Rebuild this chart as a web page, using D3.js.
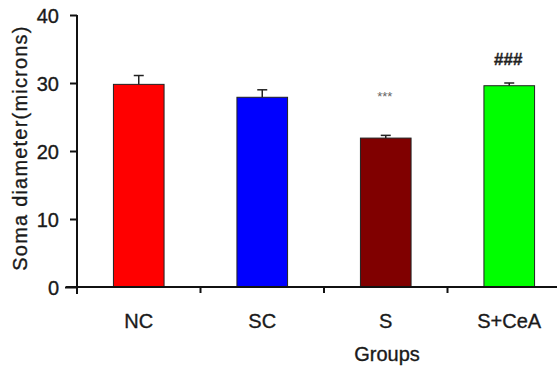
<!DOCTYPE html>
<html>
<head>
<meta charset="utf-8">
<script src="https://cdn.jsdelivr.net/npm/d3@7"></script>
<style>
  body { margin: 0; background: #fff; }
  text { font-family: "Liberation Sans", Arial, sans-serif; fill: #1a1a1a; stroke: #1a1a1a; stroke-width: 0.35px; }
</style>
</head>
<body>
<div id="chart"></div>
<script>
const groups = ["NC", "SC", "S", "S+CeA"];
const means = [29.8, 27.9, 21.9, 29.6];
const errors = [1.3, 1.1, 0.4, 0.4];
const colors = ["#ff0000", "#0000ff", "#800000", "#00ff00"];
const marks = ["", "", "***", "###"];
const yTicks = [0, 10, 20, 30, 40];

const width = 557, height = 372;

const svg = d3.select("#chart")
    .append("svg")
    .attr("width", width)
    .attr("height", height);

const x = d3.scaleBand()
    .domain(groups)
    .range([77, 571])
    .paddingInner(0)
    .paddingOuter(0);

const y = d3.scaleLinear()
    .domain([0, 40])
    .range([287, 15]);

const barW = x.bandwidth() * 0.41;

// bars
svg.selectAll(".bar")
    .data(groups)
    .enter().append("rect")
    .attr("class", "bar")
    .attr("x", (d, i) => x(d) + x.bandwidth() / 2 - barW / 2)
    .attr("y", (d, i) => y(means[i]))
    .attr("width", barW)
    .attr("height", (d, i) => y(0) - y(means[i]))
    .attr("fill", (d, i) => colors[i])
    .attr("stroke", "#222")
    .attr("stroke-width", 1);

// error bars (upper only)
const err = svg.selectAll(".err")
    .data(groups)
    .enter().append("g")
    .attr("class", "err")
    .attr("stroke", "#222")
    .attr("stroke-width", 1.5);

err.append("line")
    .attr("x1", d => x(d) + x.bandwidth() / 2)
    .attr("x2", d => x(d) + x.bandwidth() / 2)
    .attr("y1", (d, i) => y(means[i]))
    .attr("y2", (d, i) => y(means[i] + errors[i]));

err.append("line")
    .attr("x1", d => x(d) + x.bandwidth() / 2 - 5)
    .attr("x2", d => x(d) + x.bandwidth() / 2 + 5)
    .attr("y1", (d, i) => y(means[i] + errors[i]))
    .attr("y2", (d, i) => y(means[i] + errors[i]));

// significance marks
svg.selectAll(".mark")
    .data(groups)
    .enter().append("text")
    .attr("class", "mark")
    .attr("x", d => x(d) + x.bandwidth() / 2 - 1)
    .attr("y", (d, i) => i === 3 ? 65 : 101)
    .attr("text-anchor", "middle")
    .style("font-size", (d, i) => i === 3 ? "17px" : "13px")
    .style("font-weight", (d, i) => i === 3 ? "bold" : "normal")
    .style("fill", (d, i) => i === 3 ? "#222" : "#666")
    .style("stroke", (d, i) => i === 3 ? "#222" : "none")
    .text((d, i) => marks[i]);

// y axis
const yAxis = svg.append("g")
    .attr("transform", "translate(77,0)")
    .call(d3.axisLeft(y).tickValues(yTicks).tickSize(7).tickPadding(11));
yAxis.select(".domain").attr("stroke", "#111").attr("stroke-width", 2)
    .attr("d", "M0," + y(40) + "V" + (y(0) + 7));
yAxis.selectAll(".tick line").attr("stroke", "#111").attr("stroke-width", 2);
yAxis.selectAll(".tick text")
    .style("font-size", "20px")
    .style("fill", "#1a1a1a")
    .attr("dy", "0.36em");
yAxis.selectAll(".tick").filter(d => d === 0).select("line").attr("x1", 0).attr("x2", -12);

// x axis: baseline with ticks at band boundaries
svg.append("line")
    .attr("x1", 66).attr("x2", width)
    .attr("y1", y(0)).attr("y2", y(0))
    .attr("stroke", "#111").attr("stroke-width", 2);

svg.selectAll(".xtick")
    .data(groups.slice(1))
    .enter().append("line")
    .attr("class", "xtick")
    .attr("x1", d => x(d)).attr("x2", d => x(d))
    .attr("y1", y(0)).attr("y2", y(0) + 6)
    .attr("stroke", "#111").attr("stroke-width", 2);

svg.selectAll(".xlabel")
    .data(groups)
    .enter().append("text")
    .attr("class", "xlabel")
    .attr("x", d => x(d) + x.bandwidth() / 2)
    .attr("y", 328)
    .attr("text-anchor", "middle")
    .style("font-size", "20px")
    .text(d => d);

// axis titles
svg.append("text")
    .attr("x", 387)
    .attr("y", 361)
    .attr("text-anchor", "middle")
    .style("font-size", "20px")
    .text("Groups");

svg.append("text")
    .attr("transform", "translate(27,148) rotate(-90)")
    .attr("text-anchor", "middle")
    .style("font-size", "20px")
    .style("letter-spacing", "1.2px")
    .text("Soma diameter(microns)");
</script>
</body>
</html>
